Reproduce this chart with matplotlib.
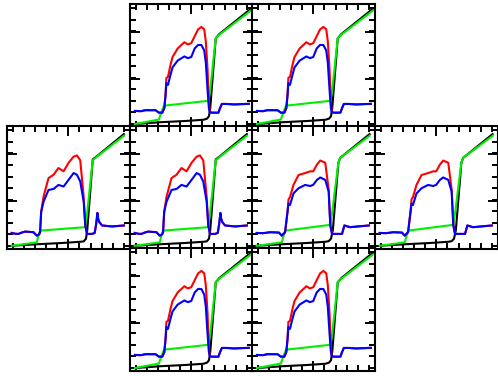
import matplotlib
matplotlib.use("Agg")
import matplotlib.pyplot as plt
from matplotlib.ticker import FixedLocator

# ---------------- data (fractions of each panel's axis range) ----------------
# Set A: top and bottom panels (higher red peak, no spike)
a_black_x = [0.04, 0.25, 0.45, 0.60, 0.63, 0.645, 0.655, 0.70, 0.73, 0.985]
a_black_y = [0.02, 0.035, 0.045, 0.055, 0.065, 0.085, 0.15, 0.72, 0.755, 0.96]
a_green_x = [0.04, 0.236, 0.25, 0.278, 0.64, 0.655, 0.70, 0.73, 0.985]
a_green_y = [0.02, 0.057, 0.10, 0.17, 0.21, 0.30, 0.72, 0.75, 0.945]
a_line_x = [0.04, 0.09, 0.125, 0.208, 0.236, 0.264, 0.28, 0.29, 0.297, 0.31, 0.33,
            0.347, 0.389, 0.444, 0.472, 0.50, 0.528, 0.556, 0.583, 0.606, 0.619,
            0.633, 0.644, 0.652, 0.667, 0.722, 0.735, 0.75, 0.79, 0.85, 0.97]
a_blue_y = [0.127, 0.125, 0.133, 0.133, 0.113, 0.113, 0.15, 0.25, 0.354, 0.34, 0.42,
            0.482, 0.538, 0.572, 0.558, 0.567, 0.637, 0.666, 0.665, 0.62, 0.52,
            0.30, 0.15, 0.115, 0.113, 0.113, 0.15, 0.184, 0.184, 0.18, 0.185]
a_red_y = [0.127, 0.125, 0.133, 0.133, 0.113, 0.113, 0.15, 0.26, 0.397, 0.405, 0.50,
           0.567, 0.637, 0.688, 0.67, 0.68, 0.737, 0.793, 0.813, 0.793, 0.694,
           0.467, 0.184, 0.12, 0.113, 0.113, 0.15, 0.184, 0.184, 0.18, 0.185]

# Set B: middle row, columns 1-2 (blue spike after the drop)
b_black_x = [0.038, 0.25, 0.45, 0.60, 0.626, 0.645, 0.655, 0.70, 0.735, 0.954]
b_black_y = [0.022, 0.035, 0.045, 0.055, 0.058, 0.08, 0.15, 0.727, 0.754, 0.934]
b_green_x = [0.038, 0.243, 0.255, 0.27, 0.639, 0.655, 0.70, 0.735, 0.954]
b_green_y = [0.022, 0.05, 0.10, 0.146, 0.174, 0.30, 0.72, 0.75, 0.92]
b_line_x = [0.038, 0.07, 0.093, 0.12, 0.148, 0.216, 0.243, 0.262, 0.27, 0.279, 0.298,
            0.339, 0.38, 0.42, 0.462, 0.503, 0.544, 0.571, 0.598, 0.626, 0.639,
            0.653, 0.694, 0.716, 0.728, 0.738, 0.745, 0.754, 0.776, 0.858, 0.954]
b_blue_y = [0.127, 0.12, 0.119, 0.13, 0.138, 0.133, 0.105, 0.115, 0.133, 0.298, 0.381,
            0.478, 0.486, 0.519, 0.506, 0.561, 0.616, 0.602, 0.547, 0.381, 0.188,
            0.119, 0.119, 0.127, 0.20, 0.29, 0.24, 0.215, 0.188, 0.18, 0.188]
b_red_y = [0.127, 0.12, 0.119, 0.13, 0.138, 0.133, 0.105, 0.115, 0.133, 0.30, 0.422,
           0.575, 0.602, 0.657, 0.63, 0.70, 0.75, 0.76, 0.72, 0.42, 0.19,
           0.119, 0.119, 0.127, 0.20, 0.29, 0.24, 0.215, 0.188, 0.18, 0.188]

# Set C: middle row, columns 3-4 (lower peak, no spike)
c_black_x = [0.038, 0.25, 0.45, 0.60, 0.626, 0.645, 0.66, 0.705, 0.72, 0.96]
c_black_y = [0.022, 0.035, 0.045, 0.055, 0.06, 0.08, 0.15, 0.70, 0.74, 0.934]
c_green_x = [0.038, 0.243, 0.257, 0.27, 0.639, 0.655, 0.705, 0.72, 0.96]
c_green_y = [0.022, 0.05, 0.10, 0.146, 0.193, 0.30, 0.70, 0.74, 0.92]
c_line_x = [0.038, 0.09, 0.15, 0.22, 0.243, 0.27, 0.29, 0.298, 0.31, 0.339, 0.38,
            0.434, 0.475, 0.50, 0.53, 0.557, 0.598, 0.626, 0.639, 0.653, 0.70,
            0.735, 0.754, 0.80, 0.954]
c_blue_y = [0.127, 0.125, 0.133, 0.13, 0.105, 0.133, 0.30, 0.367, 0.355, 0.45, 0.492,
            0.519, 0.51, 0.52, 0.56, 0.58, 0.56, 0.464, 0.188, 0.119, 0.119,
            0.119, 0.188, 0.174, 0.188]
c_red_y = [0.127, 0.125, 0.133, 0.13, 0.105, 0.133, 0.30, 0.40, 0.42, 0.52, 0.60,
           0.616, 0.63, 0.63, 0.685, 0.718, 0.70, 0.48, 0.20, 0.119, 0.119,
           0.119, 0.188, 0.174, 0.188]

# panel layout: (row, col) -> data set
panel_rows = [0, 0, 1, 1, 1, 1, 2, 2]
panel_cols = [1, 2, 0, 1, 2, 3, 1, 2]
panel_sets = ["A", "A", "B", "B", "C", "C", "A", "A"]

sets = {
    "A": dict(bx=a_black_x, by=a_black_y, gx=a_green_x, gy=a_green_y,
              lx=a_line_x, blue=a_blue_y, red=a_red_y),
    "B": dict(bx=b_black_x, by=b_black_y, gx=b_green_x, gy=b_green_y,
              lx=b_line_x, blue=b_blue_y, red=b_red_y),
    "C": dict(bx=c_black_x, by=c_black_y, gx=c_green_x, gy=c_green_y,
              lx=c_line_x, blue=c_blue_y, red=c_red_y),
}

W, H = 498, 376
fig = plt.figure(figsize=(W / 100, H / 100), dpi=100)
fig.patch.set_facecolor("white")

col_left = [7, 130, 252, 375]
row_top = [4, 126, 248]
pw, ph = 122.5, 122.5

xminor = [(k + 0.5) / 11 for k in range(11)]
yminor = [0.02 + k * 0.0945 for k in range(11)]
xmajor = [0.5]
ymajor = [0.388, 0.773]

lw = 1.5
for r, c, s in zip(panel_rows, panel_cols, panel_sets):
    d = sets[s]
    ax = fig.add_axes([col_left[c] / W, 1 - (row_top[r] + ph) / H, pw / W, ph / H])
    ax.plot(d["bx"], d["by"], color="black", lw=lw)
    ax.plot(d["gx"], d["gy"], color="#00ee00", lw=lw)
    ax.plot(d["lx"], d["red"], color="#ff0000", lw=lw)
    ax.plot(d["lx"], d["blue"], color="#0000ff", lw=lw)
    ax.set_xlim(0, 1)
    ax.set_ylim(0, 1)
    ax.xaxis.set_major_locator(FixedLocator(xmajor))
    ax.xaxis.set_minor_locator(FixedLocator(xminor))
    ax.yaxis.set_major_locator(FixedLocator(ymajor))
    ax.yaxis.set_minor_locator(FixedLocator(yminor))
    ax.tick_params(which="both", direction="in", top=True, right=True,
                   labelbottom=False, labelleft=False, width=1.4, color="black")
    ax.tick_params(which="major", length=7.5)
    ax.tick_params(which="minor", length=4.0)
    for sp in ax.spines.values():
        sp.set_linewidth(1.5)

fig.savefig("out.png", dpi=100, facecolor="white")
